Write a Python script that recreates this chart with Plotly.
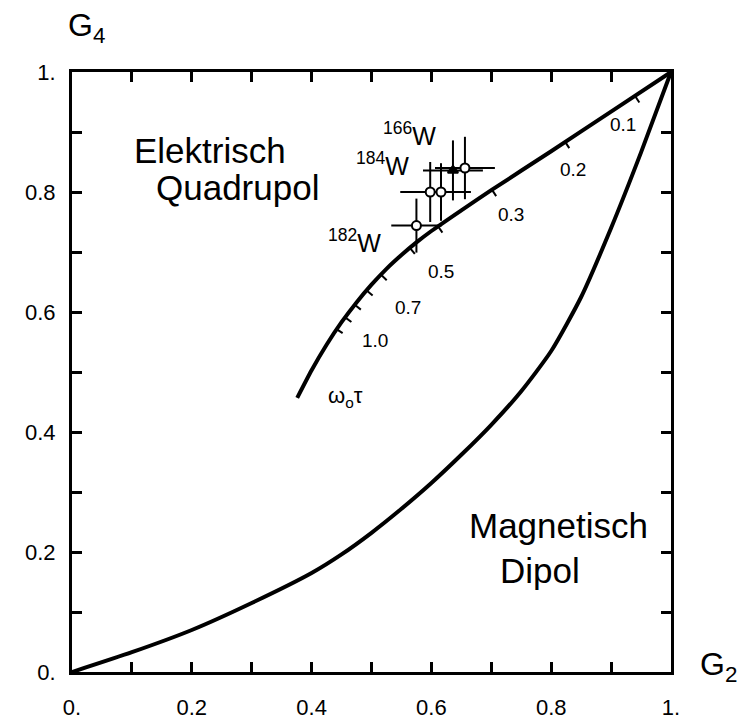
import numpy as np
import plotly.graph_objects as go

# ---------------- data ----------------
# Magnetic dipole curve (G2, G4)
mag_g2 = [0.0, 0.1, 0.2, 0.3, 0.4, 0.45, 0.5, 0.55, 0.6, 0.65, 0.7, 0.75, 0.8, 0.85, 0.9, 0.95, 1.0]
mag_g4 = [0.0, 0.033, 0.07, 0.115, 0.165, 0.196, 0.232, 0.272, 0.315, 0.362, 0.412, 0.468, 0.535, 0.625, 0.74, 0.866, 1.0]

# Electric quadrupole curve (G2, G4)
el_g2 = [0.376, 0.40, 0.425, 0.45, 0.475, 0.50, 0.525, 0.55, 0.575, 0.60, 0.65, 0.70, 0.80, 0.90, 1.0]
el_g4 = [0.457, 0.503, 0.5455, 0.583, 0.616, 0.6455, 0.672, 0.695, 0.716, 0.735, 0.7695, 0.803, 0.868, 0.934, 1.0]

# omega0*tau marks along the electric quadrupole curve
wt_vals = [0.1, 0.2, 0.3, 0.4, 0.5, 0.6, 0.7, 0.8, 0.9, 1.0]
wt_g2 = [0.940, 0.823, 0.701, 0.611, 0.564, 0.516, 0.492, 0.472, 0.456, 0.441]
wt_g4 = [0.960, 0.884, 0.804, 0.743, 0.707, 0.662, 0.636, 0.612, 0.591, 0.572]
wt_labels = ["0.1", "0.2", "0.3", None, "0.5", None, "0.7", None, None, "1.0"]

# Measured tungsten points
pt_g2 = [0.575, 0.598, 0.616, 0.636, 0.656]
pt_g4 = [0.744, 0.800, 0.800, 0.836, 0.840]
pt_g2_err = [0.042, 0.05, 0.05, 0.05, 0.05]
pt_g4_err = [0.045, 0.05, 0.048, 0.05, 0.052]
pt_symbol = ["circle", "circle", "circle", "triangle-up", "circle"]
pt_fill = ["white", "white", "white", "black", "white"]

isotopes = ["166", "184", "182"]

tick_vals = [0.0, 0.2, 0.4, 0.6, 0.8, 1.0]
tick_text = ["0.", "0.2", "0.4", "0.6", "0.8", "1."]

FONT = "Liberation Sans, Arial, sans-serif"

fig = go.Figure()

# curves
fig.add_trace(go.Scatter(x=mag_g2, y=mag_g4, mode="lines",
                         line=dict(color="black", width=4, shape="spline", smoothing=0.6),
                         hoverinfo="skip", showlegend=False))
fig.add_trace(go.Scatter(x=el_g2, y=el_g4, mode="lines",
                         line=dict(color="black", width=4, shape="spline", smoothing=0.6),
                         hoverinfo="skip", showlegend=False))

# omega tau tick marks (perpendicular, toward lower right)
tl = 0.013
tx, ty = [], []
for g2, g4 in zip(wt_g2, wt_g4):
    d = 0.01
    a = np.interp(g2 + d, el_g2, el_g4)
    b = np.interp(g2 - d, el_g2, el_g4)
    s = (a - b) / (2 * d)
    n = np.hypot(s, 1.0)
    nx, ny = s / n, -1.0 / n
    tx += [g2, g2 + tl * nx, None]
    ty += [g4, g4 + tl * ny, None]
fig.add_trace(go.Scatter(x=tx, y=ty, mode="lines", line=dict(color="black", width=2),
                         hoverinfo="skip", showlegend=False))

# measured points with error bars
fig.add_trace(go.Scatter(
    x=pt_g2, y=pt_g4, mode="markers",
    marker=dict(symbol=pt_symbol, size=9, color=pt_fill, line=dict(color="black", width=2)),
    error_x=dict(type="data", array=pt_g2_err, color="black", thickness=2, width=0),
    error_y=dict(type="data", array=pt_g4_err, color="black", thickness=2, width=0),
    showlegend=False))

ann = []
# omega tau labels
label_pos = {"0.1": (0.920, 0.913), "0.2": (0.836, 0.837), "0.3": (0.733, 0.762),
             "0.5": (0.616, 0.667), "0.7": (0.561, 0.608), "1.0": (0.506, 0.552)}
for lab in wt_labels:
    if lab:
        x, y = label_pos[lab]
        ann.append(dict(x=x, y=y, xref="x", yref="y", text=lab, showarrow=False,
                        font=dict(size=19, family=FONT, color="black")))
ann.append(dict(x=0.456, y=0.458, xref="x", yref="y", text="ω<sub>o</sub>τ", showarrow=False,
                font=dict(size=22, family=FONT, color="black")))

# isotope labels
iso_pos = [(0.563, 0.897), (0.519, 0.847), (0.472, 0.718)]
for iso, (x, y) in zip(isotopes, iso_pos):
    ann.append(dict(x=x, y=y, xref="x", yref="y", text=f"<sup>{iso}</sup>W", showarrow=False,
                    font=dict(size=25, family=FONT, color="black")))

# region labels
for txt, x, y in [("Elektrisch", 0.230, 0.870), ("Quadrupol", 0.277, 0.808),
                  ("Magnetisch", 0.813, 0.245), ("Dipol", 0.781, 0.170)]:
    ann.append(dict(x=x, y=y, xref="x", yref="y", text=txt, showarrow=False,
                    font=dict(size=35, family=FONT, color="black")))

# axis titles
ann.append(dict(x=-0.01, y=1.112, xref="paper", yref="paper", xanchor="left", yanchor="top",
                text="G<sub>4</sub>", showarrow=False,
                font=dict(size=32, family=FONT, color="black")))
ann.append(dict(x=1.045, y=0.047, xref="paper", yref="paper", xanchor="left", yanchor="top",
                text="G<sub>2</sub>", showarrow=False,
                font=dict(size=32, family=FONT, color="black")))

axis_common = dict(range=[0, 1], tickvals=tick_vals, ticktext=tick_text,
                   ticks="inside", ticklen=10, tickwidth=2.5, tickcolor="black",
                   minor=dict(ticks="inside", dtick=0.1, ticklen=10, tickwidth=2.5,
                              tickcolor="black", showgrid=False),
                   showline=True, linewidth=3, linecolor="black", mirror="ticks",
                   showgrid=False, zeroline=False, automargin=False)

fig.update_layout(
    width=737, height=724,
    margin=dict(l=72, r=66, t=72, b=52, autoexpand=False),
    paper_bgcolor="white", plot_bgcolor="white",
    xaxis=dict(**axis_common, ticklabelstandoff=14,
               tickfont=dict(size=22, family=FONT, color="black")),
    yaxis=dict(**axis_common, ticklabelstandoff=9,
               tickfont=dict(size=22, family=FONT, color="black")),
    annotations=ann,
    showlegend=False,
)

fig.write_html("out.html")
